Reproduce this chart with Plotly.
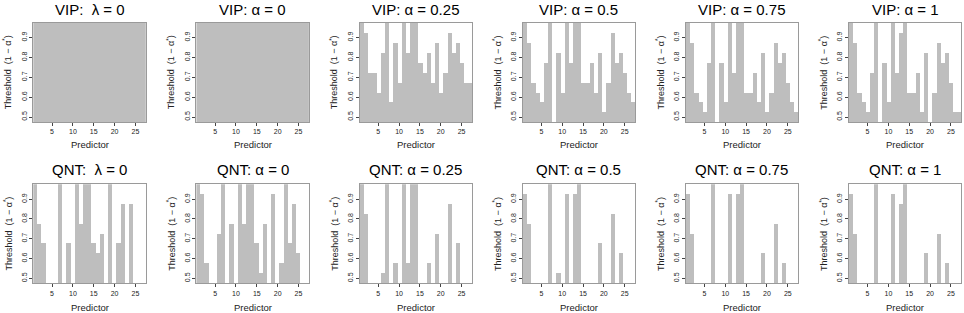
import plotly.graph_objects as go

predictors = list(range(1, 28))
x_ticks = [5, 10, 15, 20, 25]
y_ticks = [0.5, 0.6, 0.7, 0.8, 0.9]

titles = ["VIP:  λ = 0", "VIP: α = 0", "VIP: α = 0.25", "VIP: α = 0.5", "VIP: α = 0.75", "VIP: α = 1",
          "QNT:  λ = 0", "QNT: α = 0", "QNT: α = 0.25", "QNT: α = 0.5", "QNT: α = 0.75", "QNT: α = 1"]

vip_lambda0 = [0.975, 0.975, 0.975, 0.975, 0.975, 0.975, 0.975, 0.975, 0.975, 0.975, 0.975, 0.975, 0.975, 0.975,
               0.975, 0.975, 0.975, 0.975, 0.975, 0.975, 0.975, 0.975, 0.975, 0.975, 0.975, 0.975, 0.975]
vip_a0 = [0.975, 0.975, 0.975, 0.975, 0.975, 0.975, 0.975, 0.975, 0.975, 0.975, 0.975, 0.975, 0.975, 0.975,
          0.975, 0.975, 0.975, 0.975, 0.975, 0.975, 0.975, 0.975, 0.975, 0.975, 0.975, 0.975, 0.975]
vip_a025 = [0.975, 0.925, 0.725, 0.725, 0.625, 0.825, 0.975, 0.575, 0.875, 0.675, 0.975, 0.825, 0.975, 0.975,
            0.775, 0.725, 0.825, 0.675, 0.875, 0.625, 0.725, 0.925, 0.825, 0.875, 0.775, 0.675, 0.675]
vip_a05 = [0.975, 0.875, 0.675, 0.625, 0.575, 0.775, 0.975, 0.0, 0.825, 0.625, 0.975, 0.775, 0.975, 0.975,
           0.675, 0.675, 0.775, 0.625, 0.825, 0.525, 0.675, 0.925, 0.775, 0.825, 0.725, 0.625, 0.575]
vip_a075 = [0.975, 0.875, 0.625, 0.575, 0.525, 0.775, 0.975, 0.0, 0.775, 0.575, 0.975, 0.725, 0.975, 0.975,
            0.625, 0.625, 0.725, 0.575, 0.825, 0.525, 0.625, 0.875, 0.775, 0.825, 0.675, 0.575, 0.525]
vip_a1 = [0.975, 0.875, 0.625, 0.575, 0.525, 0.725, 0.975, 0.0, 0.775, 0.575, 0.975, 0.725, 0.925, 0.975,
          0.625, 0.625, 0.725, 0.525, 0.825, 0.0, 0.625, 0.875, 0.775, 0.825, 0.675, 0.525, 0.525]

qnt_lambda0 = [0.975, 0.775, 0.675, 0.0, 0.0, 0.0, 0.975, 0.0, 0.675, 0.0, 0.975, 0.775, 0.975, 0.975,
               0.675, 0.625, 0.725, 0.0, 0.975, 0.0, 0.675, 0.875, 0.0, 0.875, 0.0, 0.0, 0.0]
qnt_a0 = [0.975, 0.925, 0.575, 0.0, 0.0, 0.725, 0.975, 0.0, 0.775, 0.0, 0.975, 0.775, 0.975, 0.975,
          0.675, 0.525, 0.775, 0.0, 0.925, 0.0, 0.575, 0.975, 0.675, 0.875, 0.625, 0.0, 0.0]
qnt_a025 = [0.975, 0.825, 0.0, 0.0, 0.0, 0.525, 0.975, 0.0, 0.575, 0.0, 0.975, 0.575, 0.975, 0.975,
            0.0, 0.0, 0.575, 0.0, 0.725, 0.0, 0.0, 0.875, 0.0, 0.675, 0.0, 0.0, 0.0]
qnt_a05 = [0.925, 0.775, 0.0, 0.0, 0.0, 0.0, 0.975, 0.0, 0.525, 0.0, 0.925, 0.0, 0.925, 0.975,
           0.0, 0.0, 0.0, 0.0, 0.675, 0.0, 0.0, 0.825, 0.0, 0.625, 0.0, 0.0, 0.0]
qnt_a075 = [0.925, 0.725, 0.0, 0.0, 0.0, 0.0, 0.975, 0.0, 0.0, 0.0, 0.925, 0.0, 0.925, 0.975,
            0.0, 0.0, 0.0, 0.0, 0.625, 0.0, 0.0, 0.775, 0.0, 0.575, 0.0, 0.0, 0.0]
qnt_a1 = [0.925, 0.725, 0.0, 0.0, 0.0, 0.0, 0.975, 0.0, 0.0, 0.0, 0.925, 0.0, 0.875, 0.975,
          0.0, 0.0, 0.0, 0.0, 0.625, 0.0, 0.0, 0.725, 0.0, 0.575, 0.0, 0.0, 0.0]

series = [vip_lambda0, vip_a0, vip_a025, vip_a05, vip_a075, vip_a1,
          qnt_lambda0, qnt_a0, qnt_a025, qnt_a05, qnt_a075, qnt_a1]

W, H = 964, 313
FONT = "Liberation Sans, Arial, Helvetica, sans-serif"
BAR = "#BEBEBE"
BOX = "#9A9A9A"


def fx(px):
    return px / W


def fy(py):
    return 1 - py / H


fig = go.Figure()
layout = dict(width=W, height=H, margin=dict(l=0, r=0, t=0, b=0),
              paper_bgcolor="white", plot_bgcolor="white", showlegend=False,
              bargap=0, font=dict(family=FONT, color="#222222"))
annotations = []

left0, pw, step = 33.3, 112.5, 163.1
rows_px = [(22.7, 122.0), (184.3, 283.3)]
title_y = [9.5, 170.0]
xlab_y = [144.5, 307.5]

for i, vals in enumerate(series):
    r, c = divmod(i, 6)
    n = "" if i == 0 else str(i + 1)
    x0 = left0 + c * step
    x1 = x0 + pw
    top, bot = rows_px[r]
    fig.add_trace(go.Bar(x=predictors, y=vals, xaxis="x" + n, yaxis="y" + n, width=1,
                         marker=dict(color=BAR, line=dict(width=0)), hoverinfo="x+y"))
    layout["xaxis" + n] = dict(domain=[fx(x0), fx(x1)], range=[0.5, 27.5], anchor="y" + n,
                              tickvals=x_ticks, ticks="outside", ticklen=3, tickcolor="#444",
                              tickfont=dict(size=7, color="#222"), showgrid=False, zeroline=False,
                              showline=True, mirror=True, linecolor=BOX, linewidth=1, fixedrange=True)
    layout["yaxis" + n] = dict(domain=[fy(bot), fy(top)], range=[0.475, 0.975], anchor="x" + n,
                              tickvals=y_ticks, ticktext=[str(v) for v in y_ticks], tickangle=-90,
                              ticks="outside", ticklen=3, tickcolor="#444",
                              tickfont=dict(size=7, color="#222"), showgrid=False, zeroline=False,
                              showline=True, mirror=True, linecolor=BOX, linewidth=1, fixedrange=True)
    cx = (x0 + x1) / 2
    annotations.append(dict(text=titles[i], x=fx(cx), y=fy(title_y[r]), xref="paper", yref="paper",
                            xanchor="center", yanchor="middle", showarrow=False,
                            font=dict(size=15, color="#000", family=FONT)))
    annotations.append(dict(text="Predictor", x=fx(cx), y=fy(xlab_y[r]), xref="paper", yref="paper",
                            xanchor="center", yanchor="middle", showarrow=False,
                            font=dict(size=9.5, color="#222", family=FONT)))
    annotations.append(dict(text="Threshold  (1 − α<sup>*</sup>)", x=fx(x0 - 25.5), y=fy((top + bot) / 2),
                            xref="paper", yref="paper", xanchor="center", yanchor="middle",
                            textangle=-90, showarrow=False, font=dict(size=9, color="#222", family=FONT)))

layout["annotations"] = annotations
fig.update_layout(**layout)
# remove the default 8px page margin so the 964x313 figure fills the window exactly
fig.write_html("out.html", config={"displayModeBar": False},
               post_script="document.body.style.margin='0px';")
